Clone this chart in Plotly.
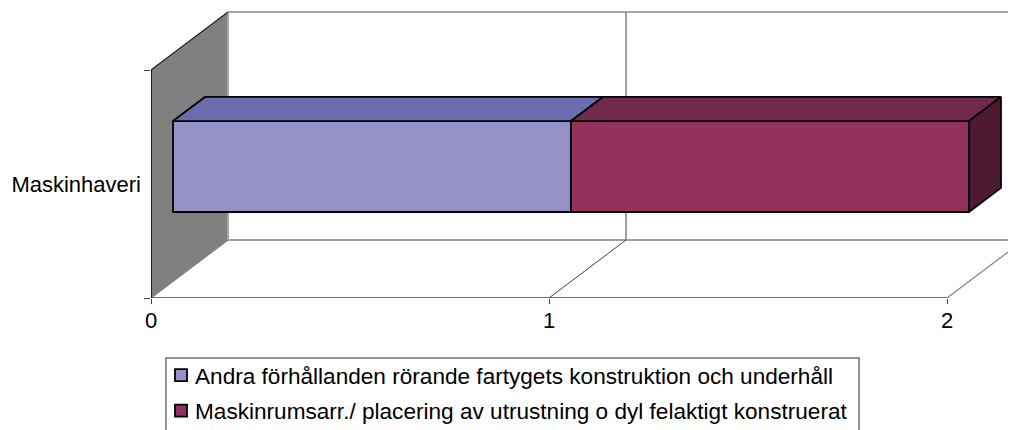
import plotly.graph_objects as go

categories = ["Maskinhaveri"]
series_names = [
    "Andra förhållanden rörande fartygets konstruktion och underhåll",
    "Maskinrumsarr./ placering av utrustning o dyl felaktigt konstruerat",
]
series_values = [1, 1]
x_ticks = [0, 1, 2]
front_colors = ["#9491C6", "#93325F"]
top_colors = ["#6C6CB0", "#70284C"]
side_color = "#4E1A32"

DEPTH_X, DEPTH_Y = 77 / 398, 58 / 228
NEAR, FAR = 22 / 77, 54 / 77
BAR_LOW, BAR_H = -0.1228, 0.399
Y0, Y1 = -0.5, 0.5
XMAX = 865 / 398
PLOT_H = 290
FONT = dict(family="Liberation Sans", size=22, color="black")
LEGEND_FONT = dict(family="Liberation Sans", size=22.6, color="black")

fig = go.Figure()
starts = [sum(series_values[:i]) + NEAR * DEPTH_X for i in range(len(series_values))]
dx, dy = (FAR - NEAR) * DEPTH_X, (FAR - NEAR) * DEPTH_Y
edge = dict(color="black", width=1.8)

for name, v, s, c in zip(series_names, series_values, starts, front_colors):
    fig.add_trace(go.Bar(y=[0], x=[v], base=[s], name=name, orientation="h",
                         width=BAR_H, offset=BAR_LOW, marker=dict(color=c, line=edge),
                         legendgroup=name))

top = BAR_LOW + BAR_H
for v, s, c in zip(series_values, starts, top_colors):
    fig.add_trace(go.Scatter(x=[s, s + dx, s + v + dx, s + v, s], y=[top, top + dy, top + dy, top, top],
                             fill="toself", fillcolor=c, mode="lines", line=edge,
                             showlegend=False, hoverinfo="skip"))
e = starts[-1] + series_values[-1]
fig.add_trace(go.Scatter(x=[e, e + dx, e + dx, e, e], y=[top, top + dy, BAR_LOW + dy, BAR_LOW, top],
                         fill="toself", fillcolor=side_color, mode="lines", line=edge,
                         showlegend=False, hoverinfo="skip"))

shapes = []
def seg(x0, y0, x1, y1, color, width):
    shapes.append(dict(type="line", x0=x0, y0=y0, x1=x1, y1=y1, xref="x", yref="y",
                       layer="below", line=dict(color=color, width=width)))

shapes.append(dict(type="path", xref="x", yref="y", layer="below", fillcolor="#808080",
                   line=dict(width=0),
                   path=f"M0,{Y0} L0,{Y1} L{DEPTH_X},{Y1 + DEPTH_Y} L{DEPTH_X},{Y0 + DEPTH_Y} Z"))
seg(DEPTH_X, Y1 + DEPTH_Y, XMAX, Y1 + DEPTH_Y, "#A6A6A6", 2)
seg(DEPTH_X, Y0 + DEPTH_Y, XMAX, Y0 + DEPTH_Y, "#A0A0A0", 2)
seg(DEPTH_X, Y0 + DEPTH_Y, DEPTH_X, Y1 + DEPTH_Y, "#A6A6A6", 2)
seg(1 + DEPTH_X, Y0 + DEPTH_Y, 1 + DEPTH_X, Y1 + DEPTH_Y, "#808080", 1.5)
seg(0, Y0, DEPTH_X, Y0 + DEPTH_Y, "#808080", 1.2)
seg(1, Y0, 1 + DEPTH_X, Y0 + DEPTH_Y, "#404040", 1)
seg(2, Y0, 2 + DEPTH_X, Y0 + DEPTH_Y, "#808080", 1.2)
seg(0, Y0, 2, Y0, "#404040", 1.5)
seg(0, Y0, 0, Y1, "black", 1.5)
seg(0, Y1, DEPTH_X, Y1 + DEPTH_Y, "#202020", 1.2)
# legend frame, running off the bottom of the picture
shapes.append(dict(type="rect", xref="paper", yref="paper",
                   x0=15 / 865, x1=708 / 865, y0=-142 / PLOT_H, y1=-60 / PLOT_H,
                   line=dict(color="#707070", width=1.5), fillcolor="rgba(0,0,0,0)"))

fig.update_layout(
    width=1008, height=422, margin=dict(l=143, r=0, t=0, b=132, autoexpand=False),
    paper_bgcolor="white", plot_bgcolor="white", barmode="overlay",
    shapes=shapes, font=FONT, showlegend=True,
    xaxis=dict(range=[0, XMAX], tickvals=x_ticks, ticks="outside", ticklen=5, ticklabelstandoff=-2,
               tickcolor="#404040", showgrid=False, zeroline=False, showline=False),
    yaxis=dict(range=[Y0, PLOT_H / 228 + Y0], tickvals=[0], ticktext=categories, ticks="",
               ticklabelstandoff=9, showgrid=False, zeroline=False, showline=False,
               minor=dict(tickmode="array", tickvals=[Y0, Y1], ticks="outside", ticklen=6,
                          tickcolor="#404040")),
    legend=dict(x=4 / 865, xanchor="left", y=-56 / PLOT_H, yanchor="top", font=LEGEND_FONT,
                traceorder="grouped", tracegroupgap=3, bgcolor="rgba(0,0,0,0)"),
)
fig.write_html("out.html", post_script=(
    "document.querySelectorAll('.legendsymbols').forEach("
    "function(n){n.setAttribute('transform','translate(6,0)');});"))
